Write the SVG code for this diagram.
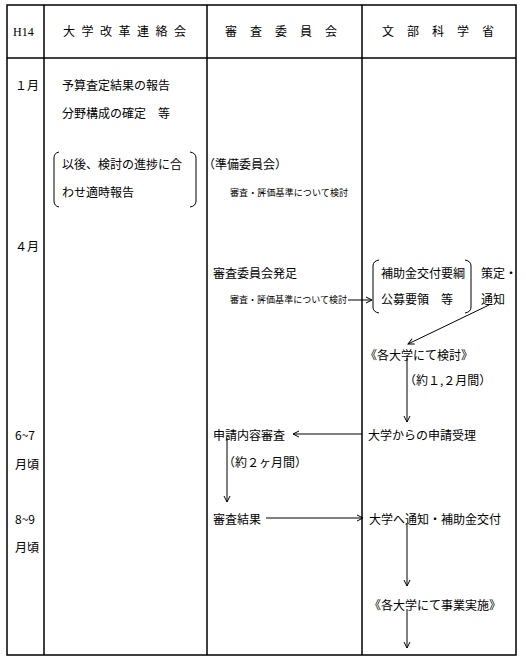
<svg xmlns="http://www.w3.org/2000/svg" width="526" height="664" viewBox="0 0 526 664">
<style>
.t{font-family:"Noto Sans CJK JP","Noto Sans",sans-serif;font-size:12px;fill:#000}
.s{font-family:"Noto Sans CJK JP","Noto Sans",sans-serif;font-size:9px;fill:#000}
.h{font-family:"Liberation Serif",serif;font-size:12px;fill:#000}
.grid{stroke:#000;stroke-width:1.5;fill:none}
.br{stroke:#000;stroke-width:1;fill:none}
.c{stroke:#000;stroke-width:1;fill:none}
</style>
<defs>
<marker id="ah" markerWidth="8" markerHeight="8" refX="7" refY="4" orient="auto" markerUnits="userSpaceOnUse">
<path d="M1,1 L7,4 L1,7" fill="none" stroke="#000" stroke-width="1"/>
</marker>
</defs>
<rect width="526" height="664" fill="#fff"/>
<g id="table">
<rect class="grid" x="7" y="5" width="509" height="650"/>
<line class="grid" x1="7" y1="58" x2="516" y2="58"/>
<line class="grid" x1="44" y1="5" x2="44" y2="655"/>
<line class="grid" x1="207" y1="5" x2="207" y2="655"/>
<line class="grid" x1="362" y1="5" x2="362" y2="655"/>
</g>
<g id="header">
<text class="h" x="13" y="36">H14</text>
<text class="t" x="63" y="36" textLength="123" lengthAdjust="spacing">大学改革連絡会</text>
<text class="t" x="225" y="36" textLength="112" lengthAdjust="spacing">審査委員会</text>
<text class="t" x="382" y="36" textLength="112" lengthAdjust="spacing">文部科学省</text>
</g>
<g id="months">
<text class="t" x="15" y="90">１月</text>
<text class="t" x="15" y="251">４月</text>
<text class="t" x="15" y="440">6~7</text>
<text class="t" x="15" y="469">月頃</text>
<text class="t" x="15" y="524">8~9</text>
<text class="t" x="15" y="552">月頃</text>
</g>
<g id="n-renraku1">
<text class="t" x="62" y="90">予算査定結果の報告</text>
<text class="t" x="62" y="118">分野構成の確定　等</text>
</g>
<g id="n-renraku2">
<path class="br" d="M59,152 Q54,153 54,158 L54,201 Q54,206 59,207"/>
<path class="br" d="M190,152 Q196,153 196,158 L196,201 Q196,206 190,207"/>
<text class="t" x="62" y="169">以後、検討の進捗に合</text>
<text class="t" x="62" y="197">わせ適時報告</text>
</g>
<g id="n-junbi">
<text class="t" x="203" y="169">（準備委員会）</text>
<text class="s" x="230" y="196" textLength="118" lengthAdjust="spacing">審査・評価基準について検討</text>
</g>
<g id="n-hossoku">
<text class="t" x="213" y="278">審査委員会発足</text>
<text class="s" x="230" y="303" textLength="117" lengthAdjust="spacing">審査・評価基準について検討</text>
</g>
<g id="n-youkou">
<path class="br" d="M379,260 Q373,261 373,266 L373,307 Q373,312 379,313"/>
<path class="br" d="M465,260 Q471,261 471,266 L471,307 Q471,312 465,313"/>
<text class="t" x="381" y="278">補助金交付要綱</text>
<text class="t" x="381" y="304">公募要領　等</text>
<text class="t" x="481" y="278">策定・</text>
<text class="t" x="481" y="304">通知</text>
</g>
<g id="n-kentou">
<text class="t" x="365" y="360">《各大学にて検討》</text>
<text class="t" x="404" y="385">（約１,２月間）</text>
</g>
<g id="n-shinsei">
<text class="t" x="213" y="440">申請内容審査</text>
<text class="t" x="223" y="467">（約２ヶ月間）</text>
</g>
<g id="n-juri">
<text class="t" x="368" y="440">大学からの申請受理</text>
</g>
<g id="n-kekka">
<text class="t" x="213" y="524">審査結果</text>
</g>
<g id="n-kofu">
<text class="t" x="369" y="524">大学へ通知・補助金交付</text>
</g>
<g id="n-jigyou">
<text class="t" x="369" y="610">《各大学にて事業実施》</text>
</g>
<g id="connectors">
<line class="c" x1="348" y1="300" x2="372" y2="300" marker-end="url(#ah)"/>
<line class="c" x1="489" y1="305" x2="408" y2="344" marker-end="url(#ah)"/>
<line class="c" x1="407" y1="358" x2="407" y2="422" marker-end="url(#ah)"/>
<line class="c" x1="362" y1="434" x2="293" y2="434" marker-end="url(#ah)"/>
<line class="c" x1="227" y1="438" x2="227" y2="502" marker-end="url(#ah)"/>
<line class="c" x1="266" y1="518" x2="363" y2="518" marker-end="url(#ah)"/>
<line class="c" x1="407" y1="524" x2="407" y2="586" marker-end="url(#ah)"/>
<line class="c" x1="407" y1="609" x2="407" y2="648" marker-end="url(#ah)"/>
</g>
</svg>
